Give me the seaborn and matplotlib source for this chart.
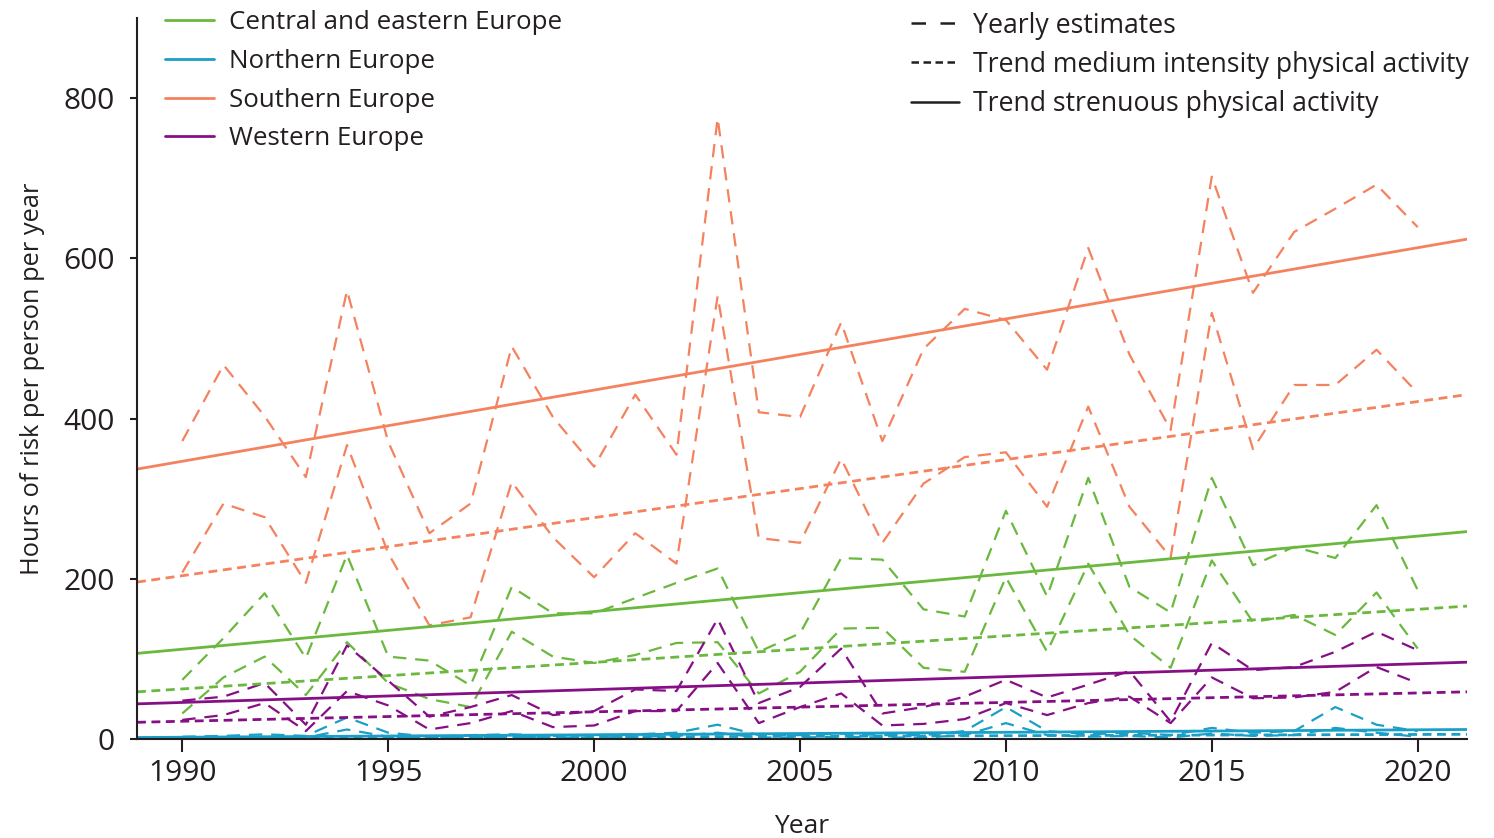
import matplotlib
matplotlib.use("Agg")
import matplotlib.pyplot as plt
from matplotlib.lines import Line2D
import pandas as pd
import seaborn as sns

# yearly estimates, hours of risk per person per year
years = list(range(1990, 2021))

central_str = [74, 126, 182, 101, 230, 103, 98, 67, 190, 157, 157, 176, 195, 213, 109, 132, 226, 224, 162,
               153, 285, 178, 326, 190, 158, 326, 217, 240, 226, 292, 186]
central_med = [32, 77, 103, 55, 121, 70, 50, 40, 134, 103, 95, 105, 120, 121, 57, 84, 138, 139, 89,
               84, 202, 109, 219, 130, 89, 223, 146, 155, 130, 183, 113]
northern_str = [3, 4, 6, 4, 27, 8, 3, 5, 6, 4, 5, 6, 8, 18, 5, 5, 7, 5, 5,
                10, 40, 10, 6, 8, 5, 14, 8, 10, 40, 18, 10]
northern_med = [1, 2, 3, 2, 12, 3, 1, 2, 3, 2, 2, 3, 4, 8, 2, 2, 3, 2, 2,
                5, 20, 5, 3, 4, 2, 7, 4, 5, 14, 8, 3]
southern_str = [372, 467, 403, 327, 560, 371, 257, 294, 490, 402, 340, 430, 355, 775, 408, 402, 520, 372, 487,
                537, 523, 461, 613, 480, 386, 702, 557, 633, 662, 692, 639]
southern_med = [208, 294, 277, 195, 367, 232, 142, 152, 321, 252, 202, 257, 219, 553, 251, 245, 350, 245, 319,
                352, 358, 290, 415, 290, 227, 532, 362, 442, 442, 486, 432]
western_str = [48, 53, 70, 18, 117, 73, 28, 40, 55, 30, 35, 62, 60, 150, 45, 65, 113, 32, 40,
               53, 74, 52, 68, 85, 22, 120, 86, 90, 109, 134, 111]
western_med = [24, 30, 45, 10, 60, 42, 12, 20, 35, 15, 17, 35, 35, 95, 20, 40, 57, 17, 19,
               25, 45, 30, 45, 53, 20, 77, 51, 52, 59, 90, 70]

# linear trends, value at left and right edge of the axis
trend_years = [1988.9, 2021.2]
central_trend = {"strenuous": [107, 259], "medium": [59, 166]}
northern_trend = {"strenuous": [2, 12], "medium": [1, 6]}
southern_trend = {"strenuous": [337, 624], "medium": [196, 430]}
western_trend = {"strenuous": [44, 96], "medium": [21, 59]}

regions = ["Central and eastern Europe", "Northern Europe", "Southern Europe", "Western Europe"]
colors = ["#6ab83e", "#1a9fc6", "#f4825e", "#860f86"]
palette = dict(zip(regions, colors))

yearly = {
    regions[0]: (central_str, central_med),
    regions[1]: (northern_str, northern_med),
    regions[2]: (southern_str, southern_med),
    regions[3]: (western_str, western_med),
}
trends = dict(zip(regions, [central_trend, northern_trend, southern_trend, western_trend]))

rows = []
for reg, (s, m) in yearly.items():
    for y, v in zip(years, s):
        rows.append((reg, "strenuous", y, v))
    for y, v in zip(years, m):
        rows.append((reg, "medium", y, v))
df = pd.DataFrame(rows, columns=["region", "intensity", "year", "hours"])

trows = []
for reg, tr in trends.items():
    for kind, vals in tr.items():
        for y, v in zip(trend_years, vals):
            trows.append((reg, kind, y, v))
tdf = pd.DataFrame(trows, columns=["region", "intensity", "year", "hours"])

sns.set_style("ticks")
plt.rcParams["font.family"] = ["Open Sans", "DejaVu Sans"]
plt.rcParams["text.color"] = "#231f20"
plt.rcParams["axes.labelcolor"] = "#231f20"
plt.rcParams["xtick.color"] = "#231f20"
plt.rcParams["ytick.color"] = "#231f20"

fig = plt.figure(figsize=(14.94, 8.38), dpi=100)
ax = fig.add_axes([0.0917, 0.118, 0.8903, 0.8605])

sns.lineplot(data=df, x="year", y="hours", hue="region", style="intensity",
             palette=palette, dashes={"strenuous": (6, 4), "medium": (6, 4)},
             linewidth=1.6, legend=False, ax=ax)
sns.lineplot(data=tdf, x="year", y="hours", hue="region", style="intensity",
             palette=palette, dashes={"strenuous": "", "medium": (3.2, 2)},
             linewidth=2.0, legend=False, ax=ax)

ax.set_xlim(1988.9, 2021.2)
ax.set_ylim(0, 900)
ax.set_xticks(range(1990, 2021, 5))
ax.set_yticks(range(0, 801, 200))
ax.tick_params(axis="x", length=9, width=1.5, labelsize=21.5, pad=5)
ax.tick_params(axis="y", length=5, width=1.5, labelsize=21.5, pad=11)
sns.despine(ax=ax)
for sp in ["left", "bottom"]:
    ax.spines[sp].set_linewidth(1.5)
    ax.spines[sp].set_color("#231f20")
ax.set_xlabel("Year", fontsize=19, labelpad=19)
ax.set_ylabel("Hours of risk per person per year", fontsize=18.3, labelpad=13)

reg_handles = [Line2D([], [], color=c, lw=2) for c in colors]
leg1 = ax.legend(reg_handles, regions, loc="upper left", bbox_to_anchor=(0.1037, 1.0),
                 bbox_transform=fig.transFigure, frameon=False, fontsize=18.6,
                 handlelength=1.87, handletextpad=0.58, labelspacing=0.53, borderaxespad=0)
ax.add_artist(leg1)

style_handles = [Line2D([], [], color="#231f20", lw=1.8, dashes=(5.8, 5.8)),
                 Line2D([], [], color="#231f20", lw=1.8, dashes=(3, 1.8)),
                 Line2D([], [], color="#231f20", lw=1.8)]
style_labels = ["Yearly estimates", "Trend medium intensity physical activity",
                "Trend strenuous physical activity"]
ax.legend(style_handles, style_labels, loc="upper left", bbox_to_anchor=(0.6024, 0.999),
          bbox_transform=fig.transFigure, frameon=False, fontsize=19.2,
          handlelength=1.8, handletextpad=0.55, labelspacing=0.42, borderaxespad=0)

fig.savefig("out.png", dpi=100)
